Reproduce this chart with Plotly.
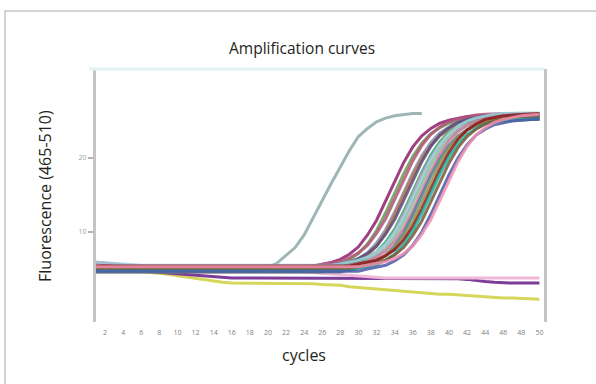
import plotly.graph_objects as go

# ---- data ----
cycles = list(range(1, 51))
x_tick_labels = [2, 4, 6, 8, 10, 12, 14, 16, 18, 20, 22, 24, 26, 28, 30, 32, 34, 36, 38, 40, 42, 44, 46, 48, 50]
y_tick_labels = [10, 20]

s01 = [5.9, 5.8, 5.7, 5.5, 5.3, 5.2, 5.2, 5.2, 5.2, 5.2,
       5.2, 5.2, 5.2, 5.2, 5.2, 5.2, 5.2, 5.2, 5.2, 5.2,
       5.2, 5.2, 5.2, 5.2, 5.4, 5.6, 5.9, 6.3, 7.0, 8.0,
       9.6, 11.6, 14.2, 16.8, 19.4, 21.5, 23.0, 24.0, 24.7, 25.1,
       25.4, 25.6, 25.7, 25.8, 25.8, 25.8, 25.8, 25.8, 25.8, 25.8]
s02 = [4.9, 4.9, 4.9, 4.9, 4.9, 4.9, 4.9, 4.9, 4.9, 4.9,
       4.9, 4.9, 4.9, 4.9, 4.9, 4.9, 4.9, 4.9, 4.9, 4.9,
       4.9, 4.9, 4.9, 4.9, 4.9, 5.2, 5.4, 5.7, 6.3, 7.1,
       8.4, 10.2, 12.6, 15.2, 17.9, 20.2, 22.0, 23.3, 24.1, 24.7,
       25.0, 25.2, 25.3, 25.4, 25.5, 25.5, 25.5, 25.5, 25.5, 25.5]
s03 = [5.8, 5.7, 5.6, 5.5, 5.4, 5.4, 5.4, 5.4, 5.4, 5.4,
       5.4, 5.4, 5.4, 5.4, 5.4, 5.4, 5.4, 5.4, 5.4, 5.4,
       5.4, 5.4, 5.4, 5.4, 5.4, 5.6, 5.8, 6.1, 6.5, 7.2,
       8.2, 9.8, 11.8, 14.4, 17.0, 19.6, 21.7, 23.2, 24.2, 24.9,
       25.3, 25.6, 25.8, 25.9, 26.0, 26.0, 26.0, 26.0, 26.0, 26.0]
s04 = [5.0, 5.0, 5.0, 5.0, 5.0, 5.0, 5.0, 5.0, 5.0, 5.0,
       5.0, 5.0, 5.0, 5.0, 5.0, 5.0, 5.0, 5.0, 5.0, 5.0,
       5.0, 5.0, 5.0, 5.0, 5.0, 5.0, 5.3, 5.5, 5.8, 6.4,
       7.2, 8.5, 10.3, 12.7, 15.3, 18.0, 20.3, 22.1, 23.4, 24.2,
       24.8, 25.1, 25.3, 25.4, 25.5, 25.6, 25.6, 25.6, 25.6, 25.6]
s05 = [4.6, 4.6, 4.6, 4.6, 4.6, 4.6, 4.6, 4.6, 4.6, 4.6,
       4.6, 4.6, 4.6, 4.6, 4.6, 4.6, 4.6, 4.6, 4.6, 4.6,
       4.6, 4.6, 4.6, 4.6, 4.6, 4.6, 4.9, 5.1, 5.4, 6.0,
       6.8, 8.1, 9.9, 12.3, 14.9, 17.6, 19.9, 21.7, 23.0, 23.8,
       24.4, 24.7, 24.9, 25.0, 25.1, 25.2, 25.2, 25.2, 25.2, 25.2]
s06 = [5.3, 5.3, 5.3, 5.3, 5.3, 5.3, 5.3, 5.3, 5.3, 5.3,
       5.3, 5.3, 5.3, 5.3, 5.3, 5.3, 5.3, 5.3, 5.3, 5.3,
       5.3, 5.3, 5.3, 5.3, 5.3, 5.3, 5.5, 5.7, 6.0, 6.4,
       7.1, 8.1, 9.7, 11.7, 14.3, 16.9, 19.5, 21.6, 23.1, 24.1,
       24.8, 25.2, 25.5, 25.7, 25.8, 25.9, 25.9, 25.9, 25.9, 25.9]
s07 = [5.1, 5.1, 5.1, 5.1, 5.1, 5.1, 5.1, 5.1, 5.1, 5.1,
       5.1, 5.1, 5.1, 5.1, 5.1, 5.1, 5.1, 5.1, 5.1, 5.1,
       5.1, 5.1, 5.1, 5.1, 5.1, 5.1, 5.1, 5.4, 5.6, 5.9,
       6.5, 7.3, 8.6, 10.4, 12.8, 15.4, 18.1, 20.4, 22.2, 23.5,
       24.3, 24.9, 25.2, 25.4, 25.5, 25.6, 25.7, 25.7, 25.7, 25.7]
s08 = [4.7, 4.7, 4.7, 4.7, 4.7, 4.7, 4.7, 4.7, 4.7, 4.7,
       4.7, 4.7, 4.7, 4.7, 4.7, 4.7, 4.7, 4.7, 4.7, 4.7,
       4.7, 4.7, 4.7, 4.7, 4.7, 4.7, 4.7, 5.0, 5.2, 5.5,
       6.1, 6.9, 8.2, 10.0, 12.4, 15.0, 17.7, 20.0, 21.8, 23.1,
       23.9, 24.5, 24.8, 25.0, 25.1, 25.2, 25.3, 25.3, 25.3, 25.3]
s09 = [5.9, 5.8, 5.7, 5.6, 5.5, 5.5, 5.5, 5.5, 5.5, 5.5,
       5.5, 5.5, 5.5, 5.5, 5.5, 5.5, 5.5, 5.5, 5.5, 5.5,
       5.5, 5.5, 5.5, 5.5, 5.5, 5.5, 5.5, 5.7, 5.9, 6.2,
       6.6, 7.3, 8.3, 9.9, 11.9, 14.5, 17.1, 19.7, 21.8, 23.3,
       24.3, 25.0, 25.4, 25.7, 25.9, 26.0, 26.1, 26.1, 26.1, 26.1]
s10 = [4.9, 4.9, 4.9, 4.9, 4.9, 4.9, 4.9, 4.9, 4.9, 4.9,
       4.9, 4.9, 4.9, 4.9, 4.9, 4.9, 4.9, 4.9, 4.9, 4.9,
       4.9, 4.9, 4.9, 4.9, 4.9, 4.9, 4.9, 5.1, 5.3, 5.6,
       6.0, 6.7, 7.7, 9.3, 11.3, 13.9, 16.5, 19.1, 21.2, 22.7,
       23.7, 24.4, 24.8, 25.1, 25.3, 25.4, 25.5, 25.5, 25.5, 25.5]
s11 = [5.2, 5.2, 5.2, 5.2, 5.2, 5.2, 5.2, 5.2, 5.2, 5.2,
       5.2, 5.2, 5.2, 5.2, 5.2, 5.2, 5.2, 5.2, 5.2, 5.2,
       5.2, 5.2, 5.2, 5.2, 5.2, 5.2, 5.2, 5.2, 5.5, 5.7,
       6.0, 6.6, 7.4, 8.7, 10.5, 12.9, 15.5, 18.2, 20.5, 22.3,
       23.6, 24.4, 25.0, 25.3, 25.5, 25.6, 25.7, 25.8, 25.8, 25.8]
s12 = [4.6, 4.6, 4.6, 4.6, 4.6, 4.6, 4.6, 4.6, 4.6, 4.6,
       4.6, 4.6, 4.6, 4.6, 4.6, 4.6, 4.6, 4.6, 4.6, 4.6,
       4.6, 4.6, 4.6, 4.6, 4.6, 4.6, 4.6, 4.6, 4.9, 5.1,
       5.4, 6.0, 6.8, 8.1, 9.9, 12.3, 14.9, 17.6, 19.9, 21.7,
       23.0, 23.8, 24.4, 24.7, 24.9, 25.0, 25.1, 25.2, 25.2, 25.2]
s13 = [5.0, 5.0, 5.0, 5.0, 5.0, 5.0, 5.0, 5.0, 5.0, 5.0,
       5.0, 5.0, 5.0, 5.0, 5.0, 5.0, 5.0, 5.0, 5.0, 5.0,
       5.0, 5.0, 5.0, 5.0, 5.0, 5.0, 5.0, 5.0, 5.2, 5.4,
       5.7, 6.1, 6.8, 7.8, 9.4, 11.4, 14.0, 16.6, 19.2, 21.3,
       22.8, 23.8, 24.5, 24.9, 25.2, 25.4, 25.5, 25.6, 25.6, 25.6]
s14 = [5.4, 5.4, 5.4, 5.4, 5.4, 5.4, 5.4, 5.4, 5.4, 5.4,
       5.4, 5.4, 5.4, 5.4, 5.4, 5.4, 5.4, 5.4, 5.4, 5.4,
       5.4, 5.4, 5.4, 5.4, 5.4, 5.4, 5.4, 5.4, 5.4, 5.7,
       5.9, 6.2, 6.8, 7.6, 8.9, 10.7, 13.1, 15.7, 18.4, 20.7,
       22.5, 23.8, 24.6, 25.2, 25.5, 25.7, 25.8, 25.9, 26.0, 26.0]
s15 = [4.8, 4.8, 4.8, 4.8, 4.8, 4.8, 4.8, 4.8, 4.8, 4.8,
       4.8, 4.8, 4.8, 4.8, 4.8, 4.8, 4.8, 4.8, 4.8, 4.8,
       4.8, 4.8, 4.8, 4.8, 4.8, 4.8, 4.8, 4.8, 4.8, 5.1,
       5.3, 5.6, 6.2, 7.0, 8.3, 10.1, 12.5, 15.1, 17.8, 20.1,
       21.9, 23.2, 24.0, 24.6, 24.9, 25.1, 25.2, 25.3, 25.4, 25.4]
s16 = [5.1, 5.1, 5.1, 5.1, 5.1, 5.1, 5.1, 5.1, 5.1, 5.1,
       5.1, 5.1, 5.1, 5.1, 5.1, 5.1, 5.1, 5.1, 5.1, 5.1,
       5.1, 5.1, 5.1, 5.1, 5.1, 5.1, 5.1, 5.1, 5.1, 5.3,
       5.5, 5.8, 6.2, 6.9, 7.9, 9.5, 11.5, 14.1, 16.7, 19.3,
       21.4, 22.9, 23.9, 24.6, 25.0, 25.3, 25.5, 25.6, 25.7, 25.7]
s17 = [4.7, 4.7, 4.7, 4.7, 4.7, 4.7, 4.7, 4.7, 4.7, 4.7,
       4.7, 4.7, 4.7, 4.7, 4.7, 4.7, 4.7, 4.7, 4.7, 4.7,
       4.7, 4.7, 4.7, 4.7, 4.7, 4.7, 4.7, 4.7, 4.7, 4.7,
       5.0, 5.2, 5.5, 6.1, 6.9, 8.2, 10.0, 12.4, 15.0, 17.7,
       20.0, 21.8, 23.1, 23.9, 24.5, 24.8, 25.0, 25.1, 25.2, 25.3]
s18 = [5.3, 5.3, 5.3, 5.3, 5.3, 5.3, 5.3, 5.3, 5.3, 5.3,
       5.3, 5.3, 5.3, 5.3, 5.3, 5.3, 5.3, 5.3, 5.3, 5.3,
       5.3, 5.3, 5.3, 5.3, 5.3, 5.3, 5.3, 5.3, 5.3, 5.3,
       5.5, 5.7, 6.0, 6.4, 7.1, 8.1, 9.7, 11.7, 14.3, 16.9,
       19.5, 21.6, 23.1, 24.1, 24.8, 25.2, 25.5, 25.7, 25.8, 25.9]

# early-amplifying sample: trace visible only up to cycle 37 in the picture
early = [5.1, 5.1, 5.1, 5.1, 5.1, 5.1, 5.1, 5.1, 5.1, 5.1,
         5.1, 5.1, 5.1, 5.1, 5.1, 5.1, 5.1, 5.1, 5.1, 5.2,
         5.8, 6.8, 7.9, 9.6, 12.0, 14.2, 16.6, 18.8, 21.0, 22.9,
         24.0, 24.9, 25.4, 25.7, 25.9, 26.0, 26.0]

neg_a = [5.1, 5.1, 5.0, 4.9, 4.8, 4.7, 4.6, 4.5, 4.3, 4.1,
         3.9, 3.7, 3.5, 3.3, 3.2, 3.1, 3.1, 3.1, 3.1, 3.1,
         3.1, 3.0, 3.0, 3.0, 3.0, 2.9, 2.9, 2.8, 2.6, 2.5,
         2.4, 2.3, 2.2, 2.1, 1.9, 1.8, 1.8, 1.7, 1.6, 1.6,
         1.5, 1.4, 1.3, 1.2, 1.2, 1.1, 1.1, 1.0, 1.0, 0.9]
neg_b = [5.2, 5.1, 5.0, 4.9, 4.8, 4.7, 4.6, 4.5, 4.4, 4.3,
         4.2, 4.1, 4.0, 3.9, 3.9, 3.8, 3.8, 3.8, 3.8, 3.8,
         3.8, 3.8, 3.8, 3.8, 3.8, 3.8, 3.8, 3.8, 3.8, 3.8,
         3.8, 3.8, 3.8, 3.8, 3.8, 3.8, 3.8, 3.8, 3.8, 3.8,
         3.7, 3.6, 3.4, 3.3, 3.2, 3.1, 3.1, 3.1, 3.1, 3.1]
neg_c = [5.0, 5.0, 5.0, 5.0, 5.0, 5.0, 5.0, 5.0, 5.0, 5.0,
         5.0, 5.0, 5.0, 5.0, 5.0, 5.0, 5.0, 5.0, 5.0, 5.0,
         4.9, 4.8, 4.7, 4.6, 4.5, 4.4, 4.3, 4.2, 4.1, 4.0,
         3.9, 3.9, 3.8, 3.8, 3.8, 3.8, 3.8, 3.8, 3.8, 3.8,
         3.8, 3.8, 3.8, 3.8, 3.8, 3.8, 3.8, 3.8, 3.8, 3.8]

amplified = [s01, s02, s03, s04, s05, s06, s07, s08, s09, s10,
             s11, s12, s13, s14, s15, s16, s17, s18]
amp_colors = ['#8e1f6e', '#6b9a52', '#b4567a', '#7f8fa8', '#c0784a', '#5e4a7e',
              '#3aa36b', '#b8a4c9', '#9fd3dd', '#8fbf9f', '#d07ba0', '#4f7f8f',
              '#9c8a4a', '#8b1a1a', '#1fb3a0', '#7a5a3a', '#4c5aa8', '#f090b0']
negatives = [neg_a, neg_b, neg_c]
neg_colors = ['#d6d65a', '#7d3c98', '#efb8d8']
early_color = '#9fb6b6'

fig = go.Figure()
for ys, col in zip(negatives, neg_colors):
    fig.add_trace(go.Scatter(x=cycles[:len(ys)], y=ys, mode='lines',
                             line=dict(color=col, width=3), hoverinfo='skip'))
fig.add_trace(go.Scatter(x=cycles[:len(early)], y=early, mode='lines',
                         line=dict(color=early_color, width=3), hoverinfo='skip'))
for ys, col in zip(amplified, amp_colors):
    fig.add_trace(go.Scatter(x=cycles[:len(ys)], y=ys, mode='lines',
                             line=dict(color=col, width=3), opacity=0.85,
                             hoverinfo='skip'))

txt = '#231f20'
fig.update_layout(
    width=596, height=384,
    margin=dict(l=96, r=52, t=69, b=62),
    paper_bgcolor='white', plot_bgcolor='white',
    showlegend=False,
    font=dict(family='Open Sans, Noto Sans, sans-serif', color=txt),
    xaxis=dict(range=[1, 50.5], tickvals=x_tick_labels, ticktext=[str(v) for v in x_tick_labels],
               tickfont=dict(size=7, color='#808080'), showgrid=False, zeroline=False,
               showline=False, ticks='', ticklabelstandoff=5),
    yaxis=dict(range=[-2.16, 32.03], tickvals=y_tick_labels, ticktext=[str(v) for v in y_tick_labels],
               tickfont=dict(size=7, color='#a0a0a0'), showgrid=False, zeroline=False,
               showline=True, mirror=True, linecolor='#c9c2c2', linewidth=3,
               ticks='outside', ticklen=5, tickwidth=2, tickcolor='#b8b0b0'),
    shapes=[
        dict(type='rect', xref='paper', yref='paper', x0=-0.203, x1=1.2, y0=-0.35, y1=1.229,
             line=dict(color='#c6c6c6', width=1.5), fillcolor='rgba(0,0,0,0)', layer='below'),
        dict(type='line', xref='paper', yref='paper', x0=-0.015, x1=1.0, y0=1.0, y1=1.0,
             line=dict(color='#e3f2f4', width=3)),
    ],
    annotations=[
        dict(text='Amplification curves', xref='paper', yref='paper', x=0.46, y=1.083,
             showarrow=False, font=dict(size=15.5, color=txt), xanchor='center', yanchor='middle'),
        dict(text='cycles', xref='paper', yref='paper', x=0.464, y=-0.13,
             showarrow=False, font=dict(size=16, color=txt), xanchor='center', yanchor='middle'),
        dict(text='Fluorescence (465-510)', xref='paper', yref='paper', x=-0.114, y=0.498,
             showarrow=False, textangle=-90, font=dict(size=16, color=txt),
             xanchor='center', yanchor='middle'),
    ],
)

fig.write_html('out.html')
